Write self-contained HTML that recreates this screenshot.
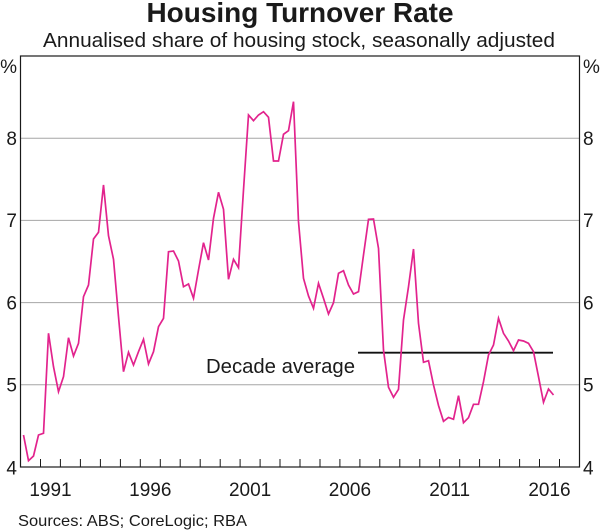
<!DOCTYPE html>
<html>
<head>
<meta charset="utf-8">
<style>
  html, body { margin: 0; padding: 0; background: #ffffff; }
  svg { display: block; }
  text { font-family: "Liberation Sans", Arial, sans-serif; fill: #1a1a1a; }
</style>
</head>
<body>
<svg width="600" height="530" viewBox="0 0 600 530" xmlns="http://www.w3.org/2000/svg">
  <!-- Title -->
  <text x="300" y="22" text-anchor="middle" font-size="28" font-weight="bold" textLength="307" lengthAdjust="spacingAndGlyphs">Housing Turnover Rate</text>
  <text x="299" y="47" text-anchor="middle" font-size="20" textLength="512" lengthAdjust="spacingAndGlyphs">Annualised share of housing stock, seasonally adjusted</text>

  <!-- Gridlines -->
  <g stroke="#a6a6a6" stroke-width="1">
    <line x1="20.5" y1="138.2" x2="579.5" y2="138.2"/>
    <line x1="20.5" y1="220.4" x2="579.5" y2="220.4"/>
    <line x1="20.5" y1="302.6" x2="579.5" y2="302.6"/>
    <line x1="20.5" y1="384.8" x2="579.5" y2="384.8"/>
  </g>

  <!-- Bottom ticks -->
  <g stroke="#1a1a1a" stroke-width="1">
    <line x1="40.5" y1="459" x2="40.5" y2="467"/>
    <line x1="60.4" y1="459" x2="60.4" y2="467"/>
    <line x1="80.4" y1="459" x2="80.4" y2="467"/>
    <line x1="100.4" y1="459" x2="100.4" y2="467"/>
    <line x1="120.4" y1="459" x2="120.4" y2="467"/>
    <line x1="140.3" y1="459" x2="140.3" y2="467"/>
    <line x1="160.3" y1="459" x2="160.3" y2="467"/>
    <line x1="180.2" y1="459" x2="180.2" y2="467"/>
    <line x1="200.2" y1="459" x2="200.2" y2="467"/>
    <line x1="220.2" y1="459" x2="220.2" y2="467"/>
    <line x1="240.1" y1="459" x2="240.1" y2="467"/>
    <line x1="260.1" y1="459" x2="260.1" y2="467"/>
    <line x1="280.0" y1="459" x2="280.0" y2="467"/>
    <line x1="300.0" y1="459" x2="300.0" y2="467"/>
    <line x1="320.0" y1="459" x2="320.0" y2="467"/>
    <line x1="339.9" y1="459" x2="339.9" y2="467"/>
    <line x1="359.9" y1="459" x2="359.9" y2="467"/>
    <line x1="379.8" y1="459" x2="379.8" y2="467"/>
    <line x1="399.8" y1="459" x2="399.8" y2="467"/>
    <line x1="419.8" y1="459" x2="419.8" y2="467"/>
    <line x1="439.7" y1="459" x2="439.7" y2="467"/>
    <line x1="459.7" y1="459" x2="459.7" y2="467"/>
    <line x1="479.6" y1="459" x2="479.6" y2="467"/>
    <line x1="499.6" y1="459" x2="499.6" y2="467"/>
    <line x1="519.6" y1="459" x2="519.6" y2="467"/>
    <line x1="539.5" y1="459" x2="539.5" y2="467"/>
    <line x1="559.5" y1="459" x2="559.5" y2="467"/>
  </g>

  <!-- Plot frame -->
  <rect x="20.5" y="56" width="559" height="411" fill="none" stroke="#1a1a1a" stroke-width="1.2"/>

  <!-- Decade average -->
  <line x1="358" y1="352.7" x2="553" y2="352.7" stroke="#111" stroke-width="1.8"/>
  <text x="206" y="373" font-size="20" textLength="149" lengthAdjust="spacingAndGlyphs">Decade average</text>

  <!-- Series -->
  <polyline fill="none" stroke="#e2238d" stroke-width="1.7" stroke-linejoin="miter" points="
    23.5,435 28.5,460.7 33.5,456 38.5,435 43.5,433.3 48.5,333.3 53.5,366.7 58.5,391.7 63.5,376.7 68.5,337.7
    73.5,356 78.5,343.3 83.5,296.7 88.5,285 93.5,239 98.5,232.3 103.5,185 108.5,235.7 113.5,259.3 118.5,316.7
    123.5,371.7 128.5,352.3 133.5,365 138.5,351.7 143.5,339.3 148.5,364 153.5,351.7 158.5,326.7 163.5,318.3 168.5,251.7
    173.5,251 178.5,261 183.5,286.7 188.5,284 193.5,298.3 198.5,270 203.5,242.7 208.5,260 213.5,218.3 218.5,192.3
    223.5,209.3 228.5,279.3 233.5,259.3 238.5,267.7 243.5,190 248.5,115 253.5,120.7 258.5,115 263.5,111.7 268.5,117.3
    273.5,161 278.5,161 283.5,134.3 288.5,130.7 293.5,101.7 298.5,221.7 303.5,278.3 308.5,296 313.5,308.3 318.5,283.3
    323.5,298.3 328.5,314 333.5,302.7 338.5,273.3 343.5,270.7 348.5,285 353.5,294 358.5,291.7 363.5,255 368.5,219.3
    373.5,219 378.5,248.3 383.5,350 388.5,387.3 393.5,397.3 398.5,389.3 403.5,320 408.5,286.7 413.5,249 418.5,323.3
    423.5,362.3 428.5,360.7 433.5,385 438.5,405.5 443.5,421.3 448.5,417.5 453.5,419.3 458.5,395.7 463.5,422.7 468.5,417.7
    473.5,404.3 478.5,404.3 483.5,381.7 488.5,355 493.5,345 498.5,318.3 503.5,333.3 508.5,341 513.5,350.7 518.5,340
    523.5,341 528.5,343.3 533.5,351.7 538.5,376.7 543.5,402.3 548.5,389 553.5,395"/>

  <!-- Left axis labels -->
  <g font-size="19" text-anchor="end">
    <text x="17" y="73">%</text>
    <text x="17" y="145">8</text>
    <text x="17" y="227.2">7</text>
    <text x="17" y="309.4">6</text>
    <text x="17" y="391.6">5</text>
    <text x="17" y="474.5">4</text>
  </g>
  <!-- Right axis labels -->
  <g font-size="19" text-anchor="start">
    <text x="583" y="73">%</text>
    <text x="583" y="145">8</text>
    <text x="583" y="227.2">7</text>
    <text x="583" y="309.4">6</text>
    <text x="583" y="391.6">5</text>
    <text x="583" y="474.5">4</text>
  </g>

  <!-- X axis labels -->
  <g font-size="19" text-anchor="middle">
    <text x="50.5" y="496">1991</text>
    <text x="150.3" y="496">1996</text>
    <text x="250.1" y="496">2001</text>
    <text x="349.9" y="496">2006</text>
    <text x="449.7" y="496">2011</text>
    <text x="549.5" y="496">2016</text>
  </g>

  <!-- Sources -->
  <text x="18" y="526" font-size="16" textLength="229" lengthAdjust="spacingAndGlyphs">Sources: ABS; CoreLogic; RBA</text>
</svg>
</body>
</html>
